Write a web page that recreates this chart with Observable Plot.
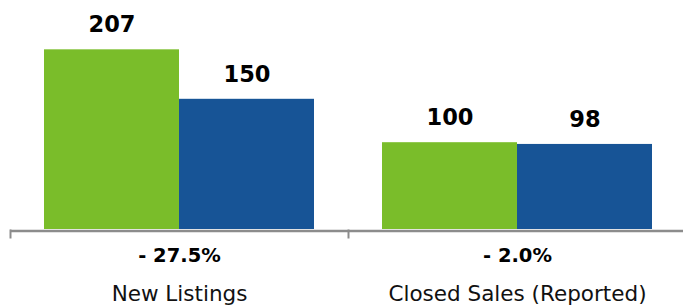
<!DOCTYPE html>
<html>
<head>
<meta charset="utf-8">
<script src="https://cdn.jsdelivr.net/npm/d3@7"></script>
<script src="https://cdn.jsdelivr.net/npm/@observablehq/plot@0.6"></script>
<style>
  html, body { margin: 0; padding: 0; background: white; }
  #chart { width: 683px; height: 306px; overflow: hidden; }
</style>
</head>
<body>
<div id="chart"></div>
<script>
const categories = ["New Listings", "Closed Sales (Reported)"];
const series = ["Prior Period", "Current Period"];
const priorValues = [207, 100];
const currentValues = [150, 98];
const changeLabels = ["- 27.5%", "- 2.0%"];
const seriesColors = ["#7abd2a", "#175496"];

const data = categories.flatMap((c, i) => [
  {category: c, series: series[0], value: priorValues[i]},
  {category: c, series: series[1], value: currentValues[i]}
]);
const changes = categories.map((c, i) => ({category: c, label: changeLabels[i]}));

const chart = Plot.plot({
  width: 683,
  height: 306,
  marginTop: 12,
  marginBottom: 69,
  marginLeft: 10,
  marginRight: -3,
  fx: {domain: categories, padding: 0, axis: null},
  x: {domain: series, paddingInner: 0, paddingOuter: 0.247, axis: null},
  y: {domain: [0, 250], insetBottom: 8, axis: null},
  color: {domain: series, range: seriesColors},
  style: {fontFamily: "DejaVu Sans", background: "white", overflow: "hidden"},
  marks: [
    Plot.barY(data, {fx: "category", x: "series", y: "value", fill: "series"}),
    Plot.ruleY([0], {stroke: "#8c8c8c", strokeWidth: 2.5, dy: 1.5}),
    Plot.frame({anchor: "left", stroke: "#8c8c8c", strokeWidth: 2, insetTop: 218}),
    Plot.text(data, {
      fx: "category", x: "series", y: "value",
      text: d => String(d.value),
      lineAnchor: "bottom", dy: -17.5,
      fontSize: 22.5, fontWeight: "bold", fill: "#000"
    }),
    Plot.text(changes, {
      fx: "category", text: "label",
      frameAnchor: "bottom", lineAnchor: "bottom", dy: 24,
      fontSize: 19.5, fontWeight: "bold", fill: "#000"
    }),
    Plot.text(categories, {
      fx: d => d, text: d => d,
      frameAnchor: "bottom", lineAnchor: "bottom", dy: 63,
      fontSize: 21.5, fill: "#111"
    })
  ]
});
document.getElementById("chart").appendChild(chart);
</script>
</body>
</html>
